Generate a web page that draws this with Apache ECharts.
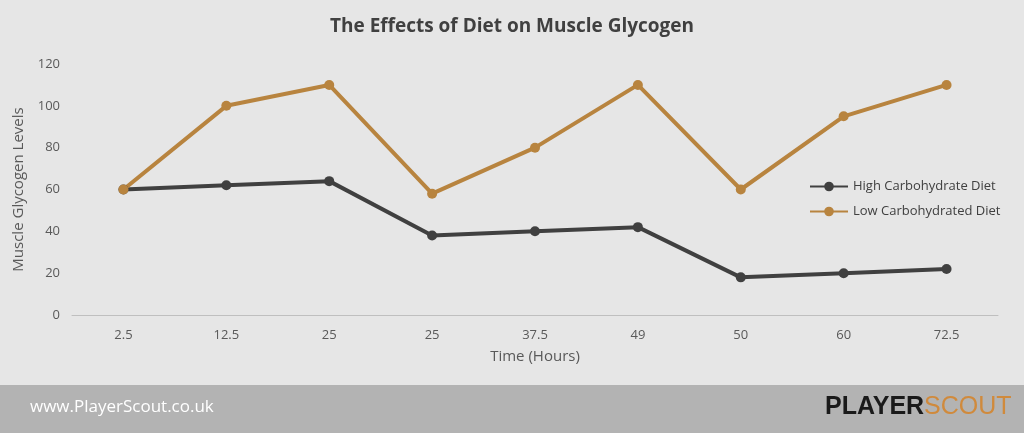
<!DOCTYPE html>
<html><head><meta charset="utf-8">
<script src="https://cdn.jsdelivr.net/npm/echarts@6/dist/echarts.min.js"></script>
<style>body{margin:0}#c{width:1024px;height:433px}</style>
</head><body><div id="c"></div>
<script>
var hours = ['2.5','12.5','25','25','37.5','49','50','60','72.5'];
var highCarb = [60,62,64,38,40,42,18,20,22];
var lowCarb = [60,100,110,58,80,110,60,95,110];

var chart = echarts.init(document.getElementById('c'));
var font = "'Open Sans', sans-serif";
var narrow = "'Liberation Sans Narrow', 'Arial Narrow', sans-serif";
chart.setOption({
    backgroundColor:'#e6e6e6',
    textStyle:{fontFamily:font},
    title:{text:'The Effects of Diet on Muscle Glycogen',left:'center',top:12,
        textStyle:{fontSize:19,fontWeight:'bold',color:'#404040',fontFamily:font}},
    legend:{orient:'vertical',left:804,top:175,itemGap:12,itemWidth:38,itemHeight:12,
        textStyle:{fontSize:13,color:'#404040'},
        data:['High Carbohydrate Diet','Low Carbohydrated Diet']},
    grid:{left:72,right:26,top:64,bottom:118},
    xAxis:{type:'category',data:hours,name:'Time (Hours)',nameLocation:'middle',nameGap:34,
        nameTextStyle:{fontSize:15,color:'#595959'},
        axisLine:{lineStyle:{color:'#bfbfbf'}},axisTick:{show:false},
        axisLabel:{color:'#595959',fontSize:13,margin:14}},
    yAxis:{type:'value',min:0,max:120,interval:20,name:'Muscle Glycogen Levels',nameLocation:'middle',nameGap:46,
        nameTextStyle:{fontSize:15,color:'#595959'},
        splitLine:{show:false},axisLine:{show:false},axisTick:{show:false},
        axisLabel:{color:'#595959',fontSize:13,margin:12}},
    series:[
        {name:'High Carbohydrate Diet',type:'line',data:highCarb,symbol:'circle',symbolSize:10,
         itemStyle:{color:'#404040'},lineStyle:{width:4,color:'#404040'}},
        {name:'Low Carbohydrated Diet',type:'line',data:lowCarb,symbol:'circle',symbolSize:10,
         itemStyle:{color:'#b8843f'},lineStyle:{width:4,color:'#b8843f'}}
    ],
    graphic:[
        {type:'rect',left:0,top:385,shape:{width:1024,height:48},style:{fill:'#b3b3b3'}},
        {type:'text',left:30,top:399,style:{text:'www.PlayerScout.co.uk',fill:'#ffffff',fontSize:17,fontFamily:font}},
        {type:'text',left:825,top:395,style:{text:'{a|PLAYER}{b|SCOUT}',
            rich:{a:{fill:'#1a1a1a',fontSize:25,fontWeight:'bold',fontFamily:narrow},
                  b:{fill:'#d08a3c',fontSize:25,fontFamily:narrow}}}}
    ]
});
</script></body></html>
